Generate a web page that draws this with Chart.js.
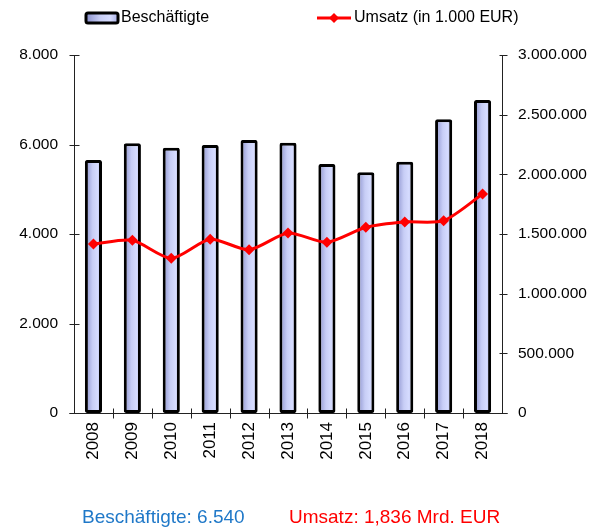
<!DOCTYPE html>
<html><head><meta charset="utf-8">
<script src="https://cdn.jsdelivr.net/npm/chart.js@4/dist/chart.umd.min.js"></script>
<style>
html,body{margin:0;padding:0;background:#fff;}
#wrap{position:relative;width:605px;height:528px;overflow:hidden;}
canvas{position:absolute;left:0;top:0;}
.note{position:absolute;font-family:"Liberation Sans",Arial,sans-serif;font-size:19px;white-space:nowrap;line-height:1;}
</style></head><body>
<div id="wrap"><canvas id="c" width="605" height="528"></canvas>
<div class="note" style="left:82px;top:507px;color:#1f78c8">Beschäftigte: 6.540</div>
<div class="note" style="left:289px;top:507px;color:#ff0000">Umsatz: 1,836 Mrd. EUR</div>
</div>
<script>
const years = ['2008','2009','2010','2011','2012','2013','2014','2015','2016','2017','2018'];
const employees = [5654, 6027, 5929, 5989, 6101, 6040, 5564, 5379, 5616, 6563, 6994];
const revenue = [1416000, 1447000, 1296000, 1456000, 1368000, 1508000, 1430000, 1556000, 1601000, 1612000, 1835000];
const leftTicks = [0, 2000, 4000, 6000, 8000];
const rightTicks = [0, 500000, 1000000, 1500000, 2000000, 2500000, 3000000];
const legendLabels = ['Beschäftigte', 'Umsatz (in 1.000 EUR)'];

const FONT = '"Liberation Sans", Arial, sans-serif';
const BAR_PCT = 0.44;
function deFmt(v){ return String(Math.round(v)).replace(/\B(?=(\d{3})+(?!\d))/g, '.'); }

function barGradient(ctx, x0, x1){
  const g = ctx.createLinearGradient(x0, 0, x1, 0);
  g.addColorStop(0, '#8a90cc');
  g.addColorStop(0.45, '#c8cef6');
  g.addColorStop(0.75, '#d6dcff');
  g.addColorStop(1, '#aab0e4');
  return g;
}

const axesPlugin = {
  id: 'axesDraw',
  beforeDatasetsDraw(chart){
    const {ctx, chartArea: a, scales} = chart;
    ctx.save();
    ctx.strokeStyle = '#222';
    ctx.lineWidth = 1;
    const L = Math.round(a.left) + 0.5, R = Math.round(a.right) + 0.5, B = Math.round(a.bottom) + 0.5;
    const seg = (x1,y1,x2,y2)=>{ctx.beginPath();ctx.moveTo(x1,y1);ctx.lineTo(x2,y2);ctx.stroke();};
    seg(L, a.top, L, B);
    seg(R, a.top, R, B);
    seg(L - 5, B, R + 5, B);
    leftTicks.forEach(v => { const y = Math.round(scales.y.getPixelForValue(v)) + 0.5; seg(L - 5, y, L + 5, y); });
    rightTicks.forEach(v => { const y = Math.round(scales.y2.getPixelForValue(v)) + 0.5; seg(R - 3, y, R + 5, y); });
    const n = years.length, step = (a.right - a.left) / n;
    for (let i = 1; i < n; i++) { const x = Math.round(a.left + i * step) + 0.5; seg(x, B - 5, x, B + 5); }
    ctx.restore();
  },
  afterDraw(chart){
    const ctx = chart.ctx;
    ctx.save();
    const x0 = 86, y0 = 13, w = 32, h = 10;
    ctx.fillStyle = barGradient(ctx, x0, x0 + w);
    ctx.strokeStyle = '#000';
    ctx.lineWidth = 3;
    ctx.beginPath();
    ctx.roundRect(x0, y0, w, h, 2);
    ctx.fill(); ctx.stroke();
    ctx.fillStyle = '#000';
    ctx.font = '16px ' + FONT;
    ctx.textBaseline = 'middle';
    ctx.textAlign = 'left';
    ctx.fillText(legendLabels[0], 121, 18);
    ctx.strokeStyle = '#ff0000';
    ctx.lineWidth = 3;
    ctx.beginPath(); ctx.moveTo(317, 18); ctx.lineTo(351, 18); ctx.stroke();
    ctx.fillStyle = '#ff0000';
    ctx.beginPath(); ctx.moveTo(334, 13); ctx.lineTo(339, 18); ctx.lineTo(334, 23); ctx.lineTo(329, 18); ctx.closePath(); ctx.fill();
    ctx.fillStyle = '#000';
    ctx.fillText(legendLabels[1], 354, 18);
    ctx.restore();
  }
};

new Chart(document.getElementById('c'), {
  data: {
    labels: years,
    datasets: [
      {
        type: 'line', label: legendLabels[1], data: revenue, yAxisID: 'y2', order: 0,
        borderColor: '#ff0000', borderWidth: 3, tension: 0.25,
        pointStyle: 'rectRot', pointRadius: 5.5, pointBackgroundColor: '#ff0000', pointBorderColor: '#ff0000', pointBorderWidth: 0
      },
      {
        type: 'bar', label: legendLabels[0], data: employees, yAxisID: 'y', order: 1,
        barPercentage: BAR_PCT, categoryPercentage: 1,
        borderColor: '#000', borderWidth: 3, borderRadius: 2, borderSkipped: false,
        backgroundColor(c){
          const chart = c.chart, xs = chart.scales && chart.scales.x;
          if (!xs || typeof c.dataIndex !== 'number') return '#c8cef6';
          const cx = xs.getPixelForValue(c.dataIndex);
          const hw = xs.width / years.length * BAR_PCT / 2;
          if (!isFinite(cx) || !isFinite(hw) || hw <= 0) return '#c8cef6';
          return barGradient(chart.ctx, cx - hw, cx + hw);
        }
      }
    ]
  },
  options: {
    responsive: false, animation: false, devicePixelRatio: 1,
    layout: { padding: { top: 55, left: 0, right: 0, bottom: 0 } },
    plugins: { legend: { display: false }, tooltip: { enabled: false } },
    scales: {
      x: {
        type: 'category', offset: true,
        grid: { display: false, drawTicks: false }, border: { display: false },
        ticks: { minRotation: 90, maxRotation: 90, padding: 9, color: '#000', font: { family: FONT, size: 17 } },
        afterFit(s){ s.height = 115; }
      },
      y: {
        position: 'left', min: 0, max: 8000,
        afterBuildTicks(s){ s.ticks = leftTicks.map(v => ({value: v})); },
        grid: { display: false, drawTicks: false }, border: { display: false },
        ticks: { padding: 16, color: '#000', font: { family: FONT, size: 15.5 }, callback: v => deFmt(v) },
        afterFit(s){ s.width = 74; }
      },
      y2: {
        position: 'right', min: 0, max: 3000000,
        afterBuildTicks(s){ s.ticks = rightTicks.map(v => ({value: v})); },
        grid: { display: false, drawTicks: false }, border: { display: false },
        ticks: { padding: 16, color: '#000', font: { family: FONT, size: 15.5 }, callback: v => deFmt(v) },
        afterFit(s){ s.width = 103; }
      }
    }
  },
  plugins: [axesPlugin]
});
</script>
</body></html>
